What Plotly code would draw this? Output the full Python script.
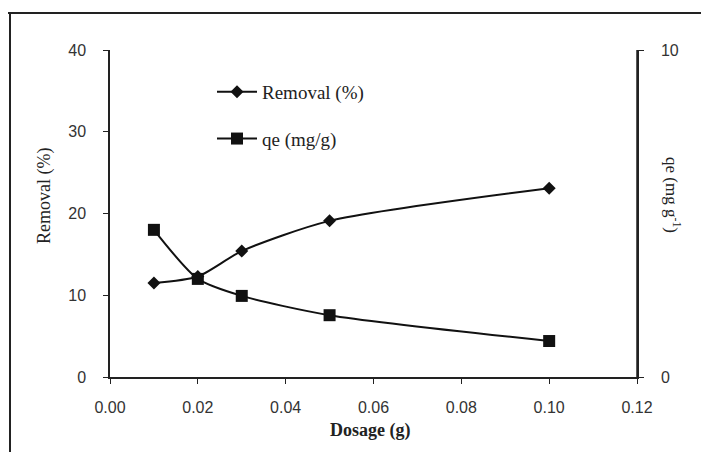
import plotly.graph_objects as go

dosage = [0.01, 0.02, 0.03, 0.05, 0.10]
removal = [11.5, 12.3, 15.4, 19.1, 23.1]
qe = [4.5, 3.0, 2.48, 1.89, 1.1]

x_ticks = [0.00, 0.02, 0.04, 0.06, 0.08, 0.10, 0.12]
x_tick_labels = ["0.00", "0.02", "0.04", "0.06", "0.08", "0.10", "0.12"]

# page body adds an 8px offset; layout is expressed in window pixels
O = 8
W, H = 709, 452
L, R, T, B = 110 - O, 72 + O, 50 - O, 75 + O
pw, ph = W - L - R, H - T - B

def px(x):
    return (x - O - L) / pw

def py(y):
    return (H - B - (y - O)) / ph

tick_font = dict(family="Liberation Sans, Arial, sans-serif", size=16, color="#333")
serif = "Liberation Serif, Times New Roman, serif"

fig = go.Figure()
fig.add_trace(go.Scatter(
    x=dosage, y=removal, name="Removal (%)", mode="lines+markers",
    line=dict(color="#111", width=2, shape="spline", smoothing=0.7),
    marker=dict(symbol="diamond", size=10, color="#111"),
    legendgroup="a",
))
fig.add_trace(go.Scatter(
    x=dosage, y=qe, name="qe (mg/g)", mode="lines+markers", yaxis="y2",
    line=dict(color="#111", width=2, shape="spline", smoothing=0.7),
    marker=dict(symbol="square", size=12, color="#111"),
    legendgroup="b",
))

fig.update_layout(
    width=W, height=H,
    margin=dict(l=L, r=R, t=T, b=B),
    paper_bgcolor="white", plot_bgcolor="white",
    showlegend=True,
    legend=dict(x=px(212), y=py(73), xanchor="left", yanchor="top",
                bgcolor="rgba(0,0,0,0)", tracegroupgap=19, itemwidth=40,
                font=dict(family=serif, size=19, color="#222")),
    xaxis=dict(range=[0, 0.12], tickvals=x_ticks, ticktext=x_tick_labels,
               showgrid=False, zeroline=False, showline=True, linecolor="#222",
               linewidth=1.5, ticks="outside", ticklen=5, tickcolor="#222",
               tickfont=tick_font, ticklabelstandoff=10),
    yaxis=dict(range=[0, 40], dtick=10, showgrid=False, zeroline=False,
               showline=True, linecolor="#222", linewidth=1.5, ticks="outside",
               ticklen=5, tickcolor="#222", tickfont=tick_font,
               ticklabelstandoff=14),
    yaxis2=dict(range=[0, 10], dtick=10, overlaying="y", side="right",
                showgrid=False, zeroline=False, showline=True, linecolor="#222",
                linewidth=1.5, ticks="outside", ticklen=5, tickcolor="#222",
                tickfont=tick_font, ticklabelstandoff=14),
    shapes=[
        dict(type="line", xref="paper", yref="paper", x0=px(8), x1=px(720),
             y0=py(13), y1=py(13), line=dict(color="#222", width=2)),
        dict(type="line", xref="paper", yref="paper", x0=px(10), x1=px(10),
             y0=py(13), y1=py(460), line=dict(color="#222", width=2)),
        dict(type="line", xref="paper", yref="paper", x0=px(637), x1=px(637),
             y0=py(50), y1=py(377), line=dict(color="#222", width=1.5)),
    ],
    annotations=[
        dict(text="<b>Dosage (g)</b>", xref="paper", yref="paper",
             x=px(370), y=py(431), xanchor="center", yanchor="middle",
             showarrow=False, font=dict(family=serif, size=18, color="#222")),
        dict(text="Removal (%)", xref="paper", yref="paper",
             x=px(45), y=py(196), xanchor="center", yanchor="middle",
             showarrow=False, textangle=-90,
             font=dict(family=serif, size=18, color="#222")),
        dict(text="qe (mg g<sup>-1</sup>)", xref="paper", yref="paper",
             x=px(673), y=py(195), xanchor="center", yanchor="middle",
             showarrow=False, textangle=90,
             font=dict(family=serif, size=17, color="#222")),
    ],
)

fig.write_html("out.html")
